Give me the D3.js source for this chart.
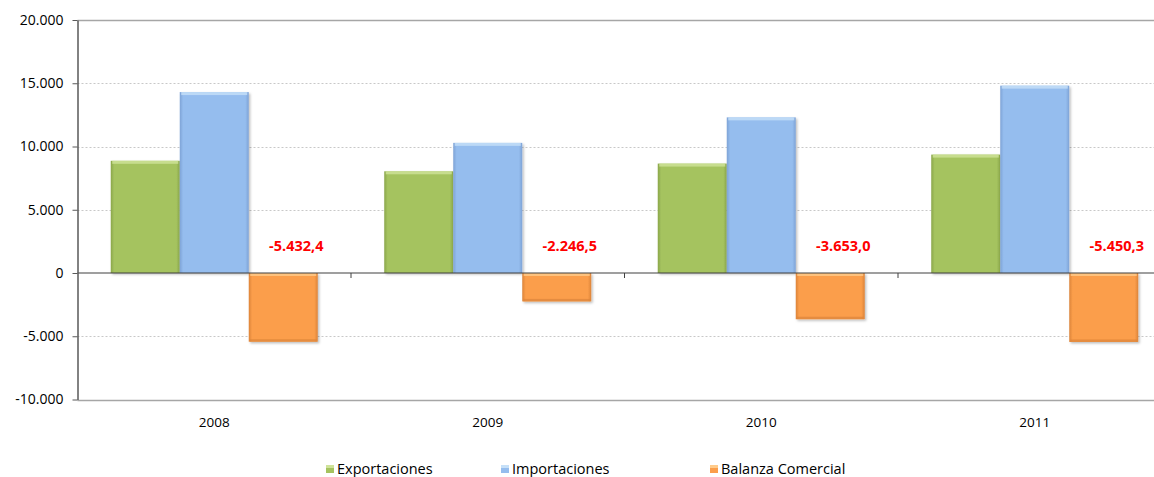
<!DOCTYPE html>
<html><head><meta charset="utf-8">
<script src="https://cdn.jsdelivr.net/npm/d3@7"></script>
<style>body{margin:0;background:#fff;overflow:hidden}svg{display:block}</style>
</head><body><svg id="c" width="1154" height="477"></svg>
<script>
const years = ["2008","2009","2010","2011"];
const exportaciones = [8870, 8040, 8650, 9360];
const importaciones = [14302.4, 10286.5, 12303, 14810.3];
const balanza = [-5432.4, -2246.5, -3653.0, -5450.3];
const balanzaLabels = ["-5.432,4","-2.246,5","-3.653,0","-5.450,3"];
const seriesNames = ["Exportaciones","Importaciones","Balanza Comercial"];
const yTicks = [-10000,-5000,0,5000,10000,15000,20000];
const yTickLabels = ["-10.000","-5.000","0","5.000","10.000","15.000","20.000"];
const colors = ["#A5C35F","#95BDEE","#FB9E4B"];
const lightColors = ["#CFE39A","#C6E0F8","#FFCB8A"];
const darkColors = ["#8AA64A","#7EA3D6","#DC843A"];

const svg = d3.select("#c");
const font = "'Open Sans', 'Liberation Sans', sans-serif";
const x0 = 77.5, bandW = 273.5;
const x = d3.scaleBand().domain(years).range([x0, x0 + bandW*4]).paddingInner(0).paddingOuter(0);
const y = d3.scaleLinear().domain([-10000, 20000]).range([399.5, 20]);
const groupW = 207;
const xs = d3.scaleBand().domain(seriesNames).range([0, groupW]);

const defs = svg.append("defs");
colors.forEach((c,i)=>{
  const g = defs.append("linearGradient").attr("id","g"+i).attr("x1",0).attr("x2",1).attr("y1",0).attr("y2",0);
  g.append("stop").attr("offset","0%").attr("stop-color",darkColors[i]);
  g.append("stop").attr("offset","5%").attr("stop-color",c);
  g.append("stop").attr("offset","95%").attr("stop-color",c);
  g.append("stop").attr("offset","100%").attr("stop-color",darkColors[i]);
});
const f = defs.append("filter").attr("id","sh").attr("x","-10%").attr("y","-10%").attr("width","130%").attr("height","130%");
f.append("feDropShadow").attr("dx",1.5).attr("dy",1.5).attr("stdDeviation",1.2).attr("flood-color","#000").attr("flood-opacity",0.25);

// gridlines
const grid = svg.append("g");
yTicks.forEach(t=>{
  if (t===0) return;
  const solid = (t===20000 || t===-10000);
  grid.append("line").attr("x1",x0).attr("x2",1154).attr("y1",Math.round(y(t))+0.5).attr("y2",Math.round(y(t))+0.5)
    .attr("stroke", solid ? "#a6a6a6" : "#c8c8c8").attr("stroke-width", solid?1.5:1)
    .attr("stroke-dasharray", solid ? null : "2,2");
});

// bars
const data = years.map((yr,i)=>[exportaciones[i], importaciones[i], balanza[i]]);
const bars = svg.append("g");
years.forEach((yr,i)=>{
  const gx = x(yr) + (bandW - groupW)/2;
  data[i].forEach((v,j)=>{
    const bx = gx + xs(seriesNames[j]);
    const by = Math.min(y(v), y(0));
    const bh = Math.abs(y(v) - y(0));
    const g = bars.append("g").attr("filter","url(#sh)");
    g.append("rect").attr("x",bx).attr("y",by).attr("width",xs.bandwidth()).attr("height",bh).attr("fill","url(#g"+j+")");
    g.append("rect").attr("x",bx+1.5).attr("y",by).attr("width",xs.bandwidth()-3).attr("height",3).attr("fill",lightColors[j]).attr("opacity",0.8);
    if (v<0) g.append("rect").attr("x",bx+1).attr("y",by+bh-2.5).attr("width",xs.bandwidth()-2).attr("height",2.5).attr("fill",darkColors[j]).attr("opacity",0.7);
  });
});

// zero line
svg.append("line").attr("x1",x0).attr("x2",1154).attr("y1",y(0)).attr("y2",y(0)).attr("stroke","#404040").attr("stroke-width",1.2);
years.slice(1).forEach(yr=>{
  svg.append("line").attr("x1",x(yr)).attr("x2",x(yr)).attr("y1",y(0)).attr("y2",y(0)+5).attr("stroke","#404040");
});

// y axis
const yAxis = d3.axisLeft(y).tickValues(yTicks).tickFormat((d,i)=>yTickLabels[i]).tickSize(5).tickSizeOuter(0);
const ya = svg.append("g").attr("transform",`translate(${x0},0)`).call(yAxis);
ya.select(".domain").attr("stroke","#595959").attr("stroke-width",1.5);
ya.selectAll(".tick line").attr("stroke","#595959");
ya.selectAll("text").attr("font-family",font).attr("font-size",14).attr("fill","#000").attr("x",-14);

// x labels
svg.append("g").selectAll("text").data(years).join("text")
  .attr("x",d=>x(d)+bandW/2).attr("y",427).attr("text-anchor","middle")
  .attr("font-family",font).attr("font-size",13.5).attr("fill","#000").text(d=>d);

// balance labels
svg.append("g").selectAll("text").data(years).join("text")
  .attr("x",(d,i)=>x(d)+(bandW-groupW)/2 + xs(seriesNames[2]) + xs.bandwidth()/2 + 13)
  .attr("y",y(1700)).attr("text-anchor","middle")
  .attr("font-family",font).attr("font-size",14.5).attr("font-weight","bold").attr("fill","#FF0000")
  .text((d,i)=>balanzaLabels[i]);

// legend
const legX = [326, 501, 710];
const leg = svg.append("g");
seriesNames.forEach((n,i)=>{
  leg.append("rect").attr("x",legX[i]).attr("y",465).attr("width",8).attr("height",8).attr("fill",colors[i]);
  leg.append("rect").attr("x",legX[i]).attr("y",465).attr("width",8).attr("height",3).attr("fill",lightColors[i]);
  leg.append("text").attr("x",legX[i]+11).attr("y",474).attr("font-family",font).attr("font-size",14.5).attr("fill","#000").text(n);
});
</script></body></html>
